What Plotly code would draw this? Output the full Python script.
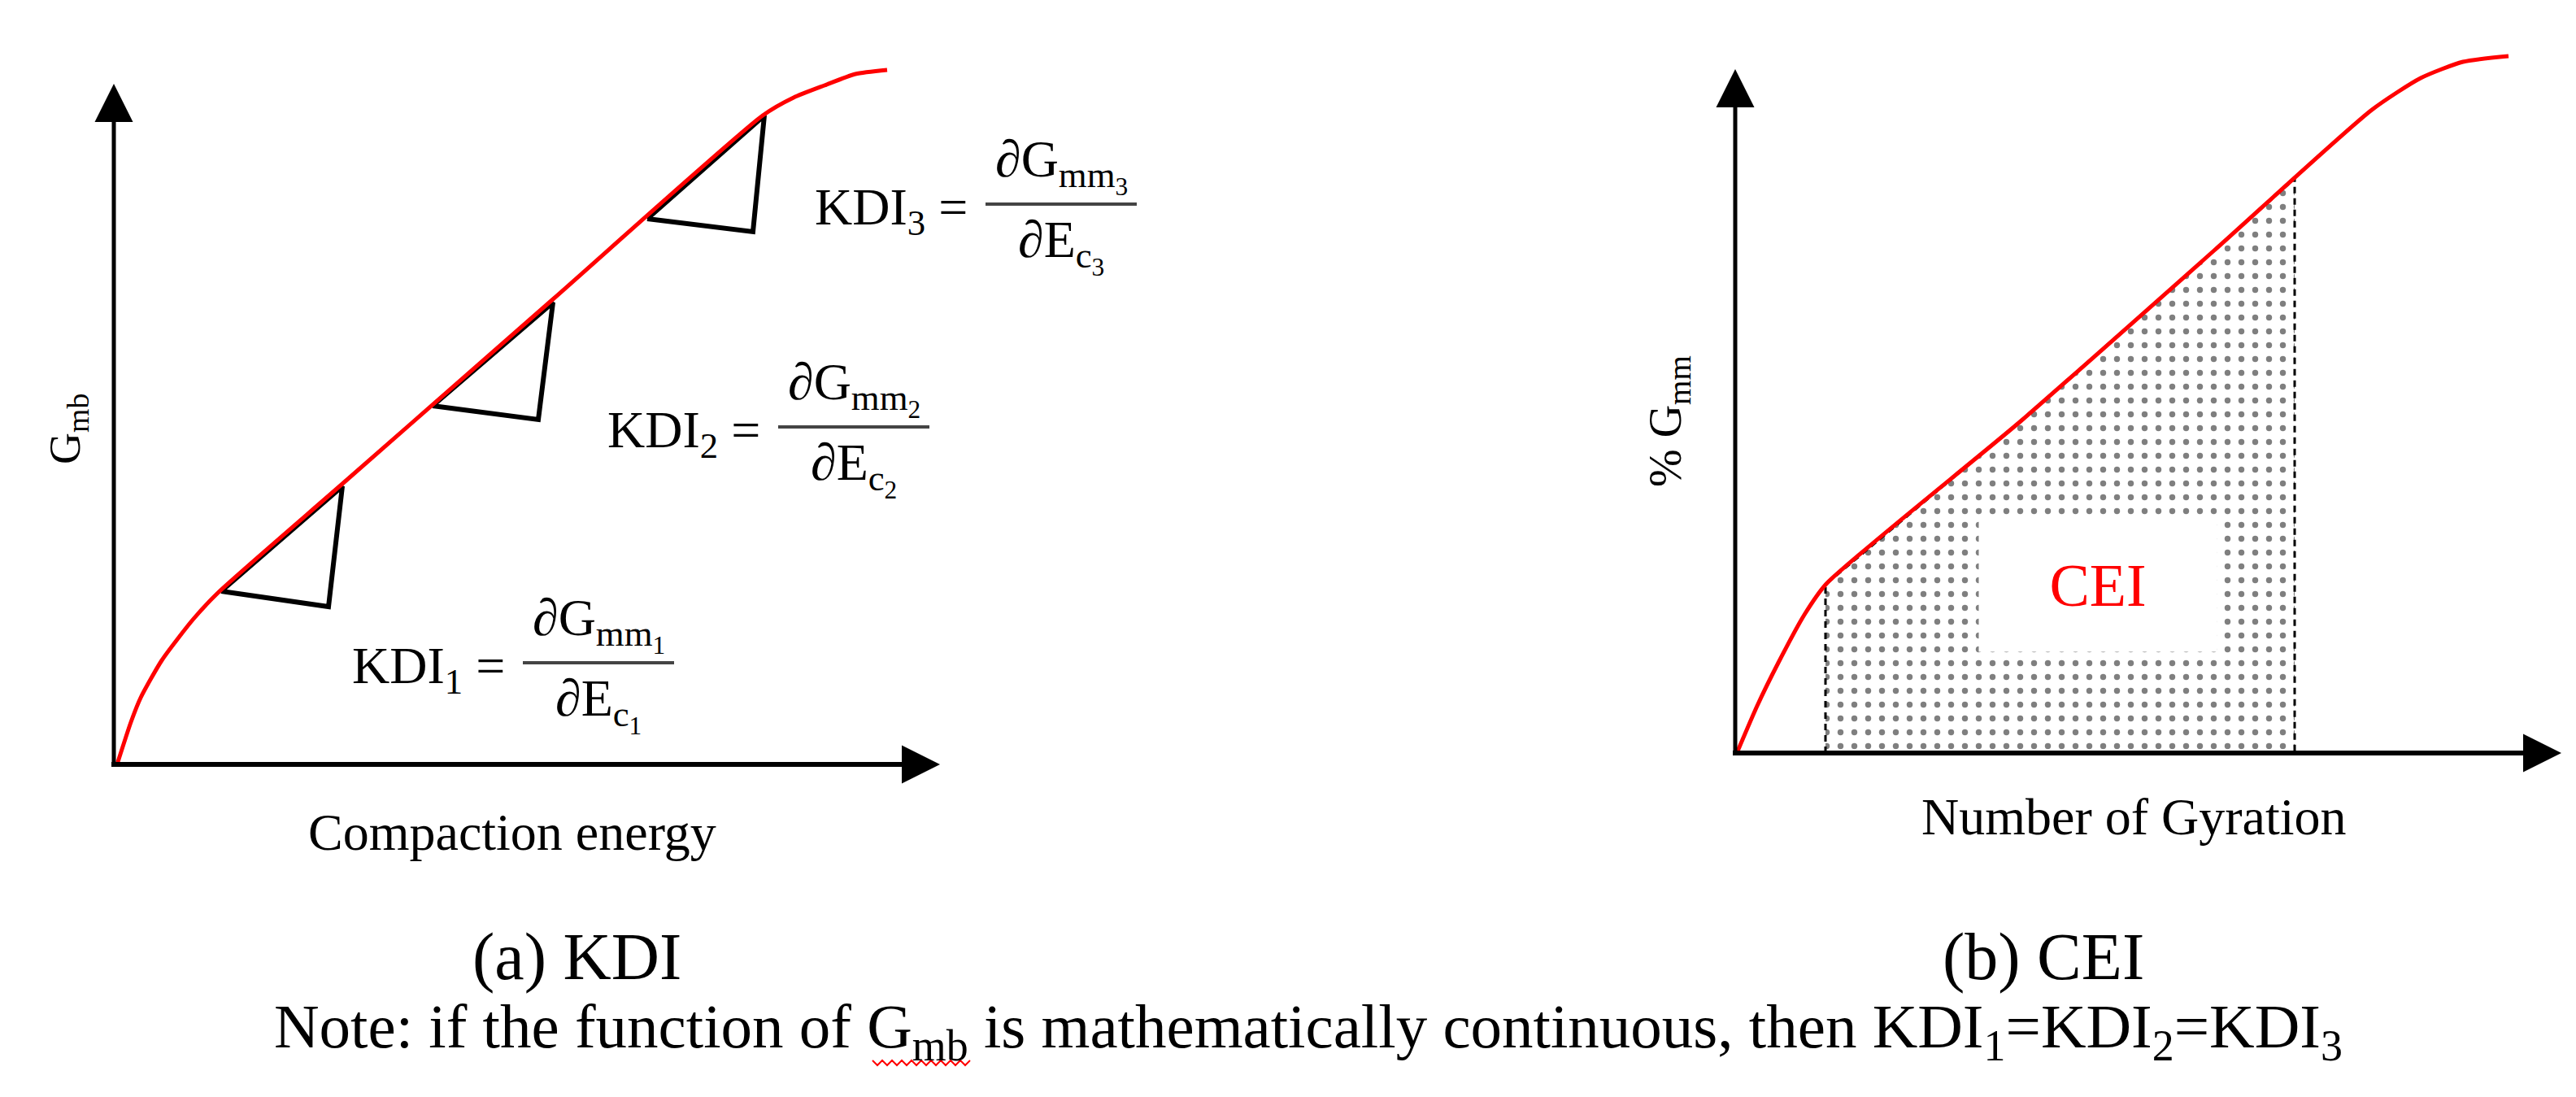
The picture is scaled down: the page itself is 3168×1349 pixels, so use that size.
import numpy as np
import plotly.graph_objects as go

# ---- (a) KDI: compaction curve (1 unit = 100 px) ----
kdi_x = [0.04, 0.21, 0.33, 0.59, 0.98, 1.28, 2.81, 5.40, 7.98, 8.36, 8.74, 9.12, 9.51]
kdi_y = [0.00, 0.52, 0.82, 1.28, 1.79, 2.11, 3.45, 5.72, 7.98, 8.20, 8.35, 8.49, 8.54]

# tangent triangles: bottom-left, top, bottom-right
tri_x = [[1.32, 2.81, 2.64], [3.92, 5.40, 5.22], [6.56, 8.00, 7.86]]
tri_y = [[2.13, 3.42, 1.94], [4.41, 5.68, 4.24], [6.71, 7.98, 6.55]]

# ---- (b) CEI: densification curve ----
cei_x = [0.02, 0.27, 0.53, 0.85, 1.12, 3.51, 5.89, 7.83, 8.43, 8.95, 9.51]
cei_y = [0.00, 0.58, 1.11, 1.70, 2.08, 4.08, 6.18, 7.91, 8.30, 8.50, 8.57]
cei_start, cei_end = 1.11, 6.88

# axis arrow tips (x, y) for each panel
x_tip = [10.16, 10.16]
y_tip = [8.37, 8.41]

FONT = "Liberation Serif"
RED = "#ff0000"
HEAD_L, HEAD_W = 0.47, 0.235

fig = go.Figure()

# dotted CEI area
xs = [cei_start] + [x for x in cei_x if cei_start < x < cei_end] + [cei_end]
ys = list(np.interp(xs, cei_x, cei_y))
fig.add_trace(go.Scatter(
    x=[cei_start] + xs + [cei_end, cei_start],
    y=[0] + ys + [0, 0],
    xaxis="x2", yaxis="y2", mode="lines", fill="toself",
    fillcolor="white",
    fillpattern=dict(shape=".", fgcolor="black", bgcolor="white", size=17, solidity=0.15),
    line=dict(color="black", width=3, dash="8px,6px"),
    hoverinfo="skip"))

# triangles under the red line
for tx, ty in zip(tri_x, tri_y):
    fig.add_trace(go.Scatter(x=tx + tx[:1], y=ty + ty[:1], mode="lines",
                             line=dict(color="black", width=6), hoverinfo="skip"))

fig.add_trace(go.Scatter(x=kdi_x, y=kdi_y, mode="lines",
                         line=dict(color=RED, width=5, shape="spline", smoothing=0.6)))
fig.add_trace(go.Scatter(x=cei_x, y=cei_y, mode="lines", xaxis="x2", yaxis="y2",
                         line=dict(color=RED, width=5, shape="spline", smoothing=0.6)))

# axes with arrowheads
for i, (xr, yr) in enumerate([("x", "y"), ("x2", "y2")]):
    xt, yt = x_tip[i], y_tip[i]
    fig.add_shape(type="line", xref=xr, yref=yr, x0=-0.03, y0=0, x1=xt - HEAD_L, y1=0,
                  line=dict(color="black", width=6))
    fig.add_shape(type="line", xref=xr, yref=yr, x0=0, y0=0, x1=0, y1=yt - HEAD_L,
                  line=dict(color="black", width=5))
    fig.add_shape(type="path", xref=xr, yref=yr, fillcolor="black", line=dict(width=0),
                  path=f"M{xt},0 L{xt - HEAD_L},{HEAD_W} L{xt - HEAD_L},{-HEAD_W} Z")
    fig.add_shape(type="path", xref=xr, yref=yr, fillcolor="black", line=dict(width=0),
                  path=f"M0,{yt} L{HEAD_W},{yt - HEAD_L} L{-HEAD_W},{yt - HEAD_L} Z")

# KDI formulas
formulas = [
    dict(n=1, x0=5.03, y=1.25),
    dict(n=2, x0=8.17, y=4.15),
    dict(n=3, x0=10.72, y=6.89),
]
BAR_W = 1.86
for f in formulas:
    n, x0, y = f["n"], f["x0"], f["y"]
    fig.add_shape(type="line", xref="x", yref="y", x0=x0, x1=x0 + BAR_W, y0=y, y1=y,
                  line=dict(color="#444444", width=4))
    fig.add_annotation(x=x0 - 0.2, y=y, xref="x", yref="y", xanchor="right", yanchor="middle",
                       text=f"KDI<sub>{n}</sub> =", showarrow=False, yshift=-8,
                       font=dict(family=FONT, size=64, color="black"))
    fig.add_annotation(x=x0 + BAR_W / 2, y=y, xref="x", yref="y", xanchor="center", yanchor="bottom",
                       text=f"∂G<sub>mm<sub>{n}</sub></sub>", showarrow=False, yshift=2,
                       font=dict(family=FONT, size=64, color="black"))
    fig.add_annotation(x=x0 + BAR_W / 2, y=y, xref="x", yref="y", xanchor="center", yanchor="top",
                       text=f"∂E<sub>c<sub>{n}</sub></sub>", showarrow=False, yshift=-6,
                       font=dict(family=FONT, size=64, color="black"))

# axis titles
fig.add_annotation(x=-0.57, y=4.12, xref="x", yref="y", text="G<sub>mb</sub>", textangle=-90,
                   showarrow=False, font=dict(family=FONT, size=54, color="black"))
fig.add_annotation(x=-0.82, y=4.08, xref="x2", yref="y2", text="% G<sub>mm</sub>", textangle=-90,
                   showarrow=False, font=dict(family=FONT, size=56, color="black"))
fig.add_annotation(x=4.90, y=-0.83, xref="x", yref="y", text="Compaction energy",
                   showarrow=False, font=dict(family=FONT, size=64, color="black"))
fig.add_annotation(x=4.90, y=-0.78, xref="x2", yref="y2", text="Number of Gyration",
                   showarrow=False, font=dict(family=FONT, size=64, color="black"))

# CEI label in a white box
fig.add_annotation(x=4.46, y=2.06, xref="x2", yref="y2", text="CEI", showarrow=False,
                   width=290, height=160, bgcolor="white",
                   font=dict(family=FONT, size=74, color=RED))

# panel captions and note
cap = dict(xref="paper", yref="paper", xanchor="center", yanchor="middle", showarrow=False)
fig.add_annotation(x=0.2213, y=0.134, text="(a) KDI", font=dict(family=FONT, size=82, color="black"), **cap)
fig.add_annotation(x=0.7907, y=0.134, text="(b) CEI", font=dict(family=FONT, size=82, color="black"), **cap)
fig.add_annotation(x=0.5054, y=0.066,
                   text="Note: if the function of G<sub>mb</sub> is mathematically continuous, "
                        "then KDI<sub>1</sub>=KDI<sub>2</sub>=KDI<sub>3</sub>",
                   font=dict(family=FONT, size=77, color="black"), **cap)

# red spell-check squiggle under "Gmb"
W, H = 3168, 1349
sx0, sx1, sy = 1065, 1190, 1299
pts = []
for k, px in enumerate(np.arange(sx0, sx1 + 1, 6)):
    py = sy + (3 if k % 2 else -3)
    pts.append(f"{px / W:.5f},{1 - py / H:.5f}")
fig.add_shape(type="path", xref="paper", yref="paper", path="M" + " L".join(pts),
              line=dict(color=RED, width=2))

fig.update_layout(
    width=W, height=H, margin=dict(l=0, r=0, t=0, b=0),
    paper_bgcolor="white", plot_bgcolor="white", showlegend=False,
    xaxis=dict(domain=[0, 0.5], range=[-1.32, 14.52], visible=False),
    yaxis=dict(domain=[0, 1], range=[-4.17, 9.32], visible=False),
    xaxis2=dict(domain=[0.5, 1], range=[-5.42, 10.42], visible=False, anchor="y2"),
    yaxis2=dict(domain=[0, 1], range=[-4.31, 9.18], visible=False, anchor="x2"),
)

fig.write_html("out.html")
